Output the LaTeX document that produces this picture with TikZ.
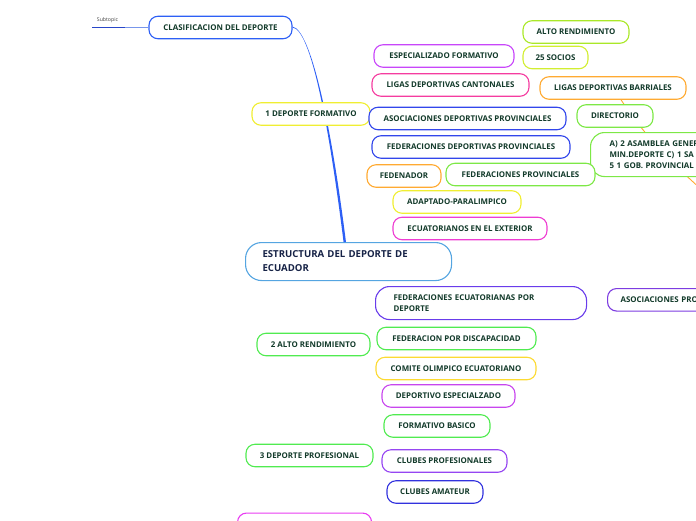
\documentclass[tikz,border=0pt]{standalone}
\usepackage{fontspec}
\setmainfont{Open Sans}
\definecolor{txt}{RGB}{18,58,42}
\definecolor{navy}{RGB}{22,34,70}
\definecolor{blueB}{RGB}{45,95,245}
\definecolor{lime}{RGB}{170,232,40}
\definecolor{limeY}{RGB}{210,238,50}
\definecolor{purp}{RGB}{200,70,250}
\definecolor{pink}{RGB}{245,60,160}
\definecolor{orng}{RGB}{255,170,50}
\definecolor{yell}{RGB}{240,238,50}
\definecolor{blueP}{RGB}{50,70,235}
\definecolor{grn}{RGB}{125,232,70}
\definecolor{grn2}{RGB}{80,235,80}
\definecolor{mag}{RGB}{238,60,210}
\definecolor{lblue}{RGB}{85,165,225}
\definecolor{vio}{RGB}{105,60,235}
\definecolor{vio2}{RGB}{125,60,225}
\definecolor{yell2}{RGB}{252,218,50}
\definecolor{purp2}{RGB}{200,70,238}
\definecolor{vio3}{RGB}{150,70,242}
\definecolor{blue3}{RGB}{50,50,222}
\definecolor{mag2}{RGB}{232,60,242}
\definecolor{stline}{RGB}{40,70,200}
\definecolor{stlight}{RGB}{120,150,235}
\tikzset{
  box/.style={draw, line width=1.1pt, rounded corners=9pt, fill=white,
    minimum height=22.5pt, inner sep=0pt, text=txt,
    font=\bfseries\fontsize{7.9}{11}\selectfont},
  conn/.style={line width=1pt}
}
\begin{document}
\begin{tikzpicture}[x=1pt,y=-1pt]
\clip (0,0) rectangle (696,520);
% nodes
\node[box, draw=blueB, minimum width=143] (clas) at (220.5,27.5) {CLASIFICACION DEL DEPORTE};
\node[box, draw=lblue, anchor=north west, minimum width=206, minimum height=38, text width=172, inner xsep=17pt, align=left, rounded corners=16pt, text=navy, font=\bfseries\fontsize{9.6}{14}\selectfont] (estr) at (245,242) {ESTRUCTURA DEL DEPORTE DE\\ECUADOR};
\fill[blueB] (clas.east) .. controls +(18,2) and +(-15,-120) .. ([xshift=-5]estr.north)
  -- ([xshift=-2.6]estr.north) .. controls +(-15,-120) and +(18,3) .. ([yshift=0.9]clas.east) -- cycle;
\node[text=black!75, font=\fontsize{5.2}{6}\selectfont, inner sep=0pt] (sub) at (107.5,20) {Subtopic};
\coordinate (st1) at (92,27.5);
\coordinate (st2) at (125,27.5);
\draw[stline, line width=1.6pt] (st1) -- (st2);
\draw[stlight, line width=1pt] (st2) -- (clas.west);
\node[box, draw=lime, minimum width=106] (alto) at (576,32) {ALTO RENDIMIENTO};
\node[box, draw=purp, minimum width=140] (espf) at (444,56) {ESPECIALIZADO FORMATIVO};
\node[box, draw=limeY, minimum width=65] (socios) at (555.5,57.5) {25 SOCIOS};
\node[box, draw=pink, minimum width=157] (cant) at (450.5,85) {LIGAS DEPORTIVAS CANTONALES};
\node[box, draw=orng, minimum width=146] (barr) at (613,88) {LIGAS DEPORTIVAS BARRIALES};
\coordinate (far) at (722,208);
\draw[orng, line width=0.9pt] ([xshift=8]barr.south) to[out=-56, in=138] (far);
\node[box, draw=yell, minimum width=118] (dform) at (311,114) {1 DEPORTE FORMATIVO};
\node[box, draw=blueP, minimum width=197] (asoc) at (467.5,118.5) {ASOCIACIONES DEPORTIVAS PROVINCIALES};
\node[box, draw=grn, minimum width=76] (dir) at (615,116) {DIRECTORIO};
\node[box, draw=grn, anchor=north west, minimum width=200, minimum height=44, text width=180, align=left, inner xsep=19pt, rounded corners=14pt] (asam) at (590,132)
  {A) 2 ASAMBLEA GENER\\MIN.DEPORTE C) 1 SA\\5 1 GOB. PROVINCIAL};
\node[box, draw=blueP, minimum width=198] (fedp) at (471,147) {FEDERACIONES DEPORTIVAS PROVINCIALES};
\node[box, draw=orng, minimum width=74] (fedn) at (404,176) {FEDENADOR};
\node[box, draw=grn, minimum width=149] (fprov) at (520.5,174.5) {FEDERACIONES PROVINCIALES};
\node[box, draw=yell, minimum width=128] (adap) at (457,202) {ADAPTADO-PARALIMPICO};
\node[box, draw=mag, minimum width=154] (ecuext) at (470,228.5) {ECUATORIANOS EN EL EXTERIOR};
\node[box, draw=vio, anchor=north west, minimum width=211, minimum height=33, text width=175, inner xsep=18pt, align=left, rounded corners=14pt] (fecu) at (375,286) {FEDERACIONES ECUATORIANAS POR\\DEPORTE};
\node[box, draw=vio2, anchor=north west, minimum width=160, text width=140, inner xsep=13pt, align=left] (asocpro) at (607,288) {ASOCIACIONES PRO};
\node[box, draw=grn2, minimum width=113] (alto2) at (313.5,344.5) {2 ALTO RENDIMIENTO};
\node[box, draw=grn2, minimum width=159] (fdisc) at (456.5,338.5) {FEDERACION POR DISCAPACIDAD};
\node[box, draw=yell2, minimum width=160] (coe) at (456,368.5) {COMITE OLIMPICO ECUATORIANO};
\node[box, draw=purp2, minimum width=133] (despec) at (448.5,396) {DEPORTIVO ESPECIALZADO};
\node[box, draw=grn2, minimum width=106] (fbas) at (437,426) {FORMATIVO BASICO};
\node[box, draw=grn2, minimum width=127] (dprof) at (309.5,455.5) {3 DEPORTE PROFESIONAL};
\node[box, draw=vio3, minimum width=125] (cprof) at (444.5,461) {CLUBES PROFESIONALES};
\node[box, draw=blue3, minimum width=96] (camat) at (435,492) {CLUBES AMATEUR};
\node[box, draw=mag2, anchor=north west, minimum width=134] (bott) at (237,512.5) {};
\end{tikzpicture}
\end{document}
